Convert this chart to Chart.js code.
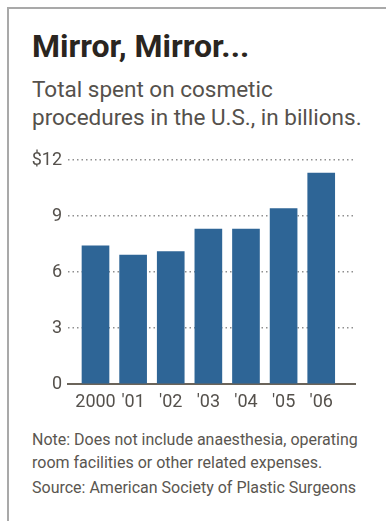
<!DOCTYPE html>
<html>
<head>
<meta charset="utf-8">
<script src="https://cdn.jsdelivr.net/npm/chart.js@4"></script>
<style>
  html, body { margin: 0; padding: 0; background: #fff; }
  body { width: 386px; height: 521px; position: relative; overflow: hidden; font-family: Roboto, "Open Sans", sans-serif; }
  .frame { position: absolute; left: 7px; top: 7px; right: -5px; bottom: -5px; border-left: 2px solid #a9a9a9; border-top: 2px solid #a9a9a9; }
  .t { position: absolute; left: 32px; white-space: nowrap; }
  .title { top: 30px; font-size: 32px; line-height: 32px; font-weight: 700; color: #2a2520; }
  .sub { font-size: 22.5px; line-height: 28px; color: #55514c; }
  .note { font-size: 16px; line-height: 24px; color: #5a5650; }
  #wrap { position: absolute; left: 0; top: 140px; width: 386px; height: 280px; }
</style>
</head>
<body>
<div class="frame"></div>
<div class="t title">Mirror, Mirror...</div>
<div class="t sub" style="top:74.5px">Total spent on cosmetic</div>
<div class="t sub" style="top:102.5px">procedures in the U.S., in billions.</div>
<div id="wrap"><canvas id="c" width="386" height="280"></canvas></div>
<div class="t note" style="top:427.5px">Note: Does not include anaesthesia, operating</div>
<div class="t note" style="top:451px">room facilities or other related expenses.</div>
<div class="t note" style="top:475.5px">Source: American Society of Plastic Surgeons</div>
<script>
const categories = ['2000', "'01", "'02", "'03", "'04", "'05", "'06"];
const spending = [7.4, 6.9, 7.1, 8.3, 8.3, 9.4, 11.3];
const yTicks = [0, 3, 6, 9, 12];
const yTickLabels = ['0', '3', '6', '9', '$12'];

const points = categories.map((c, i) => ({ x: i, y: spending[i] }));

new Chart(document.getElementById('c'), {
  type: 'bar',
  data: {
    datasets: [{
      data: points,
      backgroundColor: '#2e6596',
      borderWidth: 0,
      barThickness: 27
    }]
  },
  options: {
    responsive: false,
    animation: false,
    devicePixelRatio: 1,
    layout: { padding: { top: 20, right: 31, bottom: 0, left: 0 } },
    plugins: { legend: { display: false }, tooltip: { enabled: false } },
    scales: {
      x: {
        type: 'linear',
        offset: false,
        min: -0.731,
        max: 6.898,
        z: 1,
        afterBuildTicks: s => { s.ticks = categories.map((_, i) => ({ value: i })); },
        afterFit: s => { s.height = 36; },
        grid: { display: false, drawTicks: false, offset: false },
        border: { display: true, color: '#6b645a', width: 2 },
        ticks: {
          autoSkip: false,
          maxRotation: 0,
          padding: 8,
          color: '#55514c',
          font: { family: 'Roboto', size: 18 },
          callback: v => categories[v]
        }
      },
      y: {
        min: 0,
        max: 12,
        afterBuildTicks: s => { s.ticks = yTicks.map(v => ({ value: v })); },
        afterFit: s => { s.width = 68; },
        grid: { color: '#8f8f8f', lineWidth: 1.5, drawTicks: false },
        border: { display: false, dash: [1.5, 3] },
        ticks: {
          padding: 6,
          color: '#55514c',
          font: { family: 'Roboto', size: 18 },
          callback: v => yTickLabels[yTicks.indexOf(v)]
        }
      }
    }
  }
});
</script>
</body>
</html>
